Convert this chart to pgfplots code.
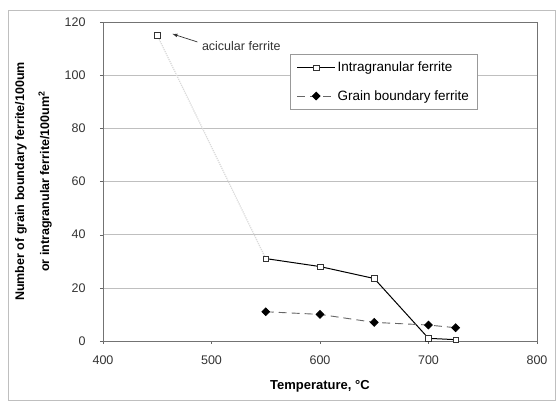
\documentclass[border=0pt]{standalone}
\usepackage{fontspec}
\setmainfont{Liberation Sans}
\usepackage{pgfplots}
\pgfplotsset{compat=1.18}
\begin{document}
\begin{tikzpicture}
\useasboundingbox (-103pt,-62pt) rectangle (455pt,341pt);
\draw[black!25] (-95pt,-59pt) rectangle (452pt,331pt);
\begin{axis}[
  scale only axis,
  width=434pt, height=319pt,
  xmin=400, xmax=800, ymin=0, ymax=120,
  xtick={400,500,...,800}, ytick={0,20,...,120},
  /pgf/number format/assume math mode=true,
  ticklabel style={font=\fontsize{12.5}{14}\selectfont, text=black!80},
  yticklabel style={xshift=-11pt},
  xticklabel style={yshift=-8pt},
  tick align=outside, tick style={black!60}, major tick length=3pt,
  xtick pos=bottom, ytick pos=left,
  axis line style={black!55},
  ymajorgrids, grid style={black!25, line width=0.6pt},
  xlabel={\bfseries Temperature, \textdegree C},
  xlabel style={font=\fontsize{13}{15}\selectfont, yshift=-9pt},
  ylabel={\bfseries Number of grain boundary ferrite/100um\\\bfseries or intragranular ferrite/100um$^{\mathbf 2}$},
  ylabel style={font=\fontsize{12.5}{25}\selectfont, align=center, yshift=6pt},
  legend style={at={(rel axis cs:0.432,0.9)}, anchor=north west, draw=black!40,
    font=\fontsize{13.5}{15}\selectfont, row sep=13pt, inner xsep=6pt, inner ysep=6pt},
  legend cell align=left,
  legend image code/.code={\draw[#1] (0pt,0pt) -- (38pt,0pt); \draw[#1, only marks] plot coordinates {(19pt,0pt)};},
]
\addplot[black!15, densely dotted, line width=1.2pt, forget plot] coordinates {(450,115) (550,31)};
\addplot[black, line width=1pt, mark=square*, mark options={fill=white, draw=black!80, line width=0.5pt, solid}, mark size=2.8pt]
  coordinates {(550,31) (600,28) (650,23.5) (700,1) (725,0.5)};
\addlegendentry{Intragranular ferrite}
\addplot[black!60, dash pattern=on 8pt off 5pt, line width=0.9pt, mark=square*, mark options={fill=black, draw=black, solid, rotate=45}, mark size=2.7pt]
  coordinates {(550,11) (600,10) (650,7) (700,6) (725,5)};
\addlegendentry{Grain boundary ferrite}
\addplot[only marks, mark=square*, mark options={fill=white, draw=black!80, line width=0.5pt}, mark size=2.8pt, forget plot]
  coordinates {(450,115)};
\draw[-latex, black!80, line width=0.7pt] (axis cs:487,112.5) -- (axis cs:464,115.5);
\node[anchor=west, font=\fontsize{12.5}{14}\selectfont, text=black!80] at (axis cs:488,111) {acicular ferrite};
\end{axis}
\end{tikzpicture}
\end{document}
